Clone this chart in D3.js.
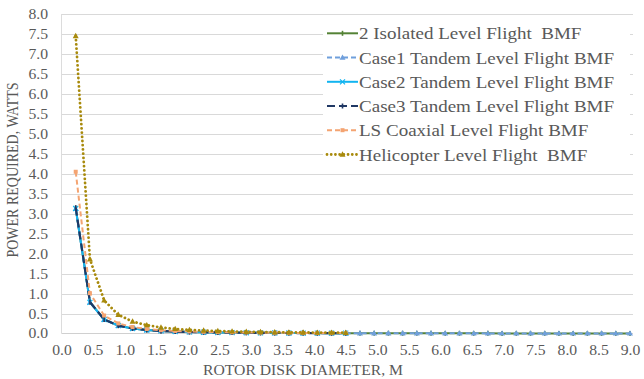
<!DOCTYPE html>
<html>
<head>
<meta charset="utf-8">
<script src="https://cdn.jsdelivr.net/npm/d3@7"></script>
<style>
  html, body { margin: 0; padding: 0; background: #fff; }
  svg { display: block; }
  text { font-family: "Liberation Serif", "Times New Roman", serif; fill: #595959; white-space: pre; }
</style>
</head>
<body>
<svg id="chart" width="644" height="379"></svg>
<script>
// Rotor disk diameter, m
const diameters = [0.225, 0.45, 0.675, 0.9, 1.125, 1.35, 1.575, 1.8, 2.025, 2.25,
  2.475, 2.7, 2.925, 3.15, 3.375, 3.6, 3.825, 4.05, 4.275, 4.5,
  4.725, 4.95, 5.175, 5.4, 5.625, 5.85, 6.075, 6.3, 6.525, 6.75,
  6.975, 7.2, 7.425, 7.65, 7.875, 8.1, 8.325, 8.55, 8.775, 9.0];

// Power required, watts
const isolated = [3.14, 0.79, 0.35, 0.197, 0.126, 0.088, 0.064, 0.049, 0.039, 0.032,
  0.026, 0.022, 0.019, 0.016, 0.014, 0.012, 0.011, 0.010, 0.009, 0.008,
  0.007, 0.007, 0.006, 0.005, 0.005, 0.005, 0.004, 0.004, 0.004, 0.004,
  0.003, 0.003, 0.003, 0.003, 0.003, 0.002, 0.002, 0.002, 0.002, 0.002];
const case1 = [3.12, 0.78, 0.35, 0.195, 0.125, 0.087, 0.064, 0.049, 0.039, 0.031,
  0.026, 0.022, 0.018, 0.016, 0.014, 0.012, 0.011, 0.010, 0.009, 0.008,
  0.007, 0.006, 0.006, 0.005, 0.005, 0.005, 0.004, 0.004, 0.004, 0.003,
  0.003, 0.003, 0.003, 0.003, 0.003, 0.002, 0.002, 0.002, 0.002, 0.002];
const case2 = [3.13, 0.78, 0.35, 0.196, 0.125, 0.087, 0.064, 0.049, 0.039, 0.031,
  0.026, 0.022, 0.019, 0.016, 0.014, 0.012, 0.011, 0.010, 0.009, 0.008];
const case3 = [3.15, 0.79, 0.35, 0.197, 0.126, 0.088, 0.064, 0.049, 0.039, 0.032,
  0.026, 0.022, 0.019, 0.016, 0.014, 0.012, 0.011, 0.010, 0.009, 0.008];
const lsCoaxial = [4.05, 1.01, 0.45, 0.253, 0.162, 0.113, 0.083, 0.063, 0.050, 0.041,
  0.033, 0.028, 0.024, 0.021, 0.018, 0.016, 0.014, 0.0125, 0.011, 0.010];
const helicopter = [7.45, 1.86, 0.83, 0.47, 0.30, 0.21, 0.152, 0.116, 0.092, 0.075,
  0.062, 0.052, 0.044, 0.038, 0.033, 0.029, 0.026, 0.023, 0.021, 0.019];

const seriesNames = [
  "2 Isolated Level Flight  BMF",
  "Case1 Tandem Level Flight BMF",
  "Case2 Tandem Level Flight BMF",
  "Case3 Tandem Level Flight BMF",
  "LS Coaxial Level Flight BMF",
  "Helicopter Level Flight  BMF"
];
const xTicks = d3.range(0, 9.0001, 0.5);
const yTicks = d3.range(0, 8.0001, 0.5);
const xTitle = "ROTOR DISK DIAMETER, M";
const yTitle = "POWER REQUIRED, WATTS";

const series = [
  { name: seriesNames[0], values: isolated,   color: "#548235", dash: null,        width: 2,   marker: "dash" },
  { name: seriesNames[1], values: case1,      color: "#6f9fdc", dash: "5 3",       width: 2,   marker: "triangle" },
  { name: seriesNames[2], values: case2,      color: "#12b4f0", dash: null,        width: 2,   marker: "cross" },
  { name: seriesNames[3], values: case3,      color: "#203864", dash: "8 4",       width: 2.2, marker: "dash" },
  { name: seriesNames[4], values: lsCoaxial,  color: "#f4a472", dash: "5 3",       width: 2,   marker: "square" },
  { name: seriesNames[5], values: helicopter, color: "#a88a0c", dash: "0.01 4.2",  width: 2.8, marker: "triangle", round: true }
];

const stretch = 1.12; // horizontal text stretch
const svg = d3.select("#chart");
const x = d3.scaleLinear().domain([0, 9]).range([61.5, 630]);
const y = d3.scaleLinear().domain([0, 8]).range([333.5, 14]);

// horizontal gridlines
svg.append("g").selectAll("line").data(yTicks.slice(1)).join("line")
  .attr("x1", x(0)).attr("x2", 633)
  .attr("y1", d => Math.round(y(d)) + 0.5).attr("y2", d => Math.round(y(d)) + 0.5)
  .attr("stroke", "#d9d9d9").attr("stroke-width", 1);

// axes lines
svg.append("line").attr("x1", x(0)).attr("x2", 633)
  .attr("y1", 333.5).attr("y2", 333.5).attr("stroke", "#d0d0d0");
svg.append("line").attr("x1", x(0)).attr("x2", x(0))
  .attr("y1", y(8)).attr("y2", 333.5).attr("stroke", "#dcdcdc");

// tick labels
const yAxis = d3.axisLeft(y).tickValues(yTicks).tickFormat(d3.format(".1f")).tickSize(0).tickPadding(12);
const gy = svg.append("g").attr("transform", `translate(${x(0)},0)`).call(yAxis);
gy.select(".domain").remove();
gy.attr("font-family", "Liberation Serif");
gy.selectAll("text")
  .attr("font-size", 14)
  .attr("fill", "#595959")
  .attr("transform", `scale(${stretch},1)`);

const xAxis = d3.axisBottom(x).tickValues(xTicks).tickFormat(d3.format(".1f")).tickSize(0).tickPadding(12);
const gx = svg.append("g").attr("transform", `translate(0,${333.5})`).call(xAxis);
gx.select(".domain").remove();
gx.attr("font-family", "Liberation Serif");
gx.selectAll("text")
  .attr("font-size", 14)
  .attr("fill", "#595959")
  .attr("transform", `scale(${stretch},1)`);

// axis titles
svg.append("text").attr("transform", `translate(303,375) scale(${stretch},1)`)
  .attr("text-anchor", "middle").attr("font-size", 14).text(xTitle);
svg.append("text").attr("transform", `translate(18,170) scale(${stretch},1) rotate(-90)`)
  .attr("text-anchor", "middle").attr("font-size", 14).text(yTitle);

// markers
function drawMarker(g, type, cx, cy, color) {
  if (type === "triangle") {
    g.append("path").attr("d", `M${cx},${cy - 3.2}L${cx + 3},${cy + 2.2}L${cx - 3},${cy + 2.2}Z`).attr("fill", color);
  } else if (type === "square") {
    g.append("rect").attr("x", cx - 2).attr("y", cy - 2).attr("width", 4).attr("height", 4).attr("fill", color);
  } else if (type === "cross") {
    g.append("path").attr("d", `M${cx - 2.5},${cy - 2.5}L${cx + 2.5},${cy + 2.5}M${cx - 2.5},${cy + 2.5}L${cx + 2.5},${cy - 2.5}`)
      .attr("stroke", color).attr("stroke-width", 1.2);
  } else {
    g.append("path").attr("d", `M${cx},${cy - 2.5}L${cx},${cy + 2.5}`).attr("stroke", color).attr("stroke-width", 1.6);
  }
}

const line = d3.line().x(d => x(d[0])).y(d => y(d[1]));
const plot = svg.append("g");
series.forEach(s => {
  const pts = s.values.map((v, i) => [diameters[i], v]);
  const g = plot.append("g");
  g.append("path").attr("d", line(pts)).attr("fill", "none")
    .attr("stroke", s.color).attr("stroke-width", s.width)
    .attr("stroke-dasharray", s.dash)
    .attr("stroke-linecap", s.round ? "round" : "butt")
    .attr("stroke-linejoin", "round");
  pts.forEach(p => drawMarker(g, s.marker, x(p[0]), y(p[1]), s.color));
});

// legend
const lg = svg.append("g");
lg.append("rect").attr("x", 323).attr("y", 20).attr("width", 307).attr("height", 147).attr("fill", "#fff");
const rowY = [33.3, 57.6, 81.8, 106, 130.2, 154.5];
series.forEach((s, i) => {
  const cy = rowY[i];
  lg.append("line").attr("x1", 327).attr("x2", 358).attr("y1", cy).attr("y2", cy)
    .attr("stroke", s.color).attr("stroke-width", s.width)
    .attr("stroke-dasharray", s.dash).attr("stroke-linecap", s.round ? "round" : "butt");
  drawMarker(lg, s.marker, 342.5, cy, s.color);
  lg.append("text").attr("transform", `translate(359,${cy + 6}) scale(${stretch},1)`)
    .attr("font-size", 17).text(s.name);
});
</script>
</body>
</html>
